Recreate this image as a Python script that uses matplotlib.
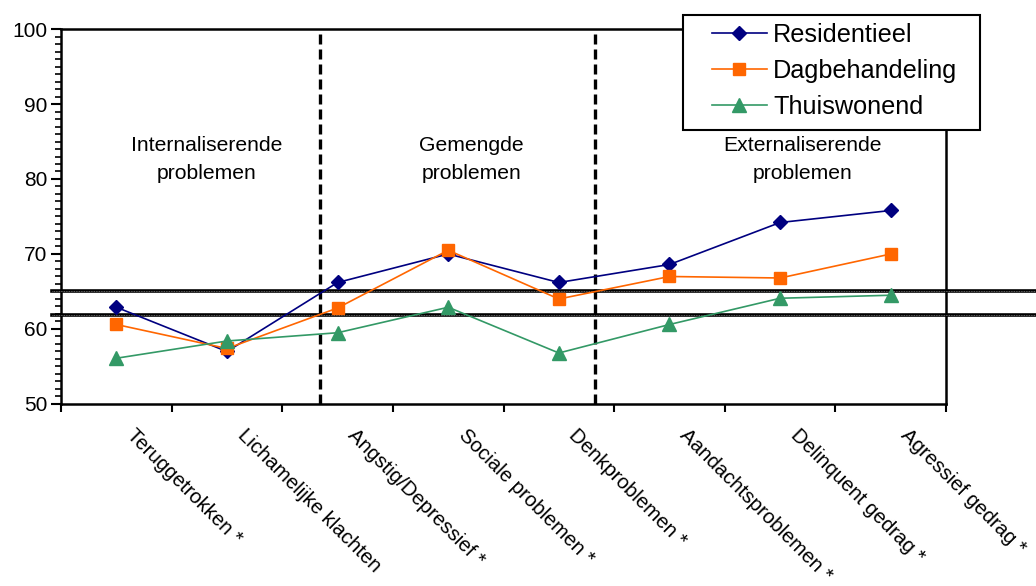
import numpy as np
import matplotlib.pyplot as plt
import matplotlib.transforms as mtransforms
from matplotlib.patches import Rectangle
from matplotlib.ticker import MultipleLocator, FixedLocator

plt.rcParams['font.family'] = ['Liberation Sans', 'DejaVu Sans']

categories = ['Teruggetrokken *', 'Lichamelijke klachten', 'Angstig/Depressief *',
              'Sociale problemen *', 'Denkproblemen *', 'Aandachtsproblemen *',
              'Delinquent gedrag *', 'Agressief gedrag *']
residentieel = [62.9, 57.0, 66.2, 70.0, 66.2, 68.6, 74.2, 75.8]
dagbehandeling = [60.6, 57.4, 62.8, 70.5, 64.0, 67.0, 66.8, 70.0]
thuiswonend = [56.1, 58.4, 59.5, 62.9, 56.8, 60.6, 64.1, 64.5]

# cut-off lines (borderline / clinical range) and group separators
cutoffs = [65.0, 61.8]
separators = [1.84, 4.33]
groups = ['Internaliserende\nproblemen', 'Gemengde\nproblemen', 'Externaliserende\nproblemen']
group_x = [0.82, 3.21, 6.2]

navy = '#000080'
orange = '#FF6600'
green = '#339966'

fig = plt.figure(figsize=(10.36, 5.86), dpi=100)
ax = fig.add_axes([0.0589, 0.3106, 0.8543, 0.6399])

x = np.arange(len(categories))
ax.plot(x, residentieel, color=navy, lw=1.2, marker='D', ms=7, label='Residentieel', zorder=4)
ax.plot(x, dagbehandeling, color=orange, lw=1.2, marker='s', ms=8.5, label='Dagbehandeling', zorder=4)
ax.plot(x, thuiswonend, color=green, lw=1.2, marker='^', ms=10, label='Thuiswonend', zorder=4)

for c in cutoffs:
    ax.plot([-0.58, 8.4], [c, c], color='black', lw=2.6, clip_on=False, zorder=3)
    ax.plot([-0.58, 8.4], [c, c], color='#888888', lw=0.6, ls=(0, (1, 1)), clip_on=False, zorder=3)

for s in separators:
    ax.plot([s, s], [50, 100], color='black', lw=2.4, ls=(0, (3, 1.5)), clip_on=False, zorder=3)

for gx, g in zip(group_x, groups):
    ax.text(gx, 82.6, g, ha='center', va='center', fontsize=15.2, linespacing=1.55)

ax.set_xlim(-0.5, len(categories) - 0.5)
ax.set_ylim(50, 100)
ax.yaxis.set_major_locator(MultipleLocator(10))
ax.yaxis.set_minor_locator(MultipleLocator(1))
ax.xaxis.set_major_locator(FixedLocator(x))
ax.xaxis.set_minor_locator(FixedLocator(np.arange(-0.5, len(categories), 1)))
ax.set_xticklabels([])
ax.tick_params(axis='x', which='major', length=0)
ax.tick_params(axis='x', which='minor', length=6, width=1.5, direction='out')
ax.tick_params(axis='y', which='major', length=7, width=1.5, labelsize=15, pad=3)
ax.tick_params(axis='y', which='minor', length=4, width=1.2)
for spine in ax.spines.values():
    spine.set_linewidth(1.8)
    spine.set_color('black')

# rotated category labels, starting just right of each category centre
label_tr = ax.get_xaxis_transform() + mtransforms.ScaledTranslation(0.20, -0.215, fig.dpi_scale_trans)
for xi, cat in zip(x, categories):
    ax.text(xi, 0, cat, transform=label_tr, rotation=-45, rotation_mode='anchor',
            ha='left', va='top', fontsize=14.7)

# legend box drawn separately: it has wider side padding than top/bottom
box = Rectangle((683 / 1036, 1 - 130 / 586), 297 / 1036, 115 / 586, transform=fig.transFigure,
                facecolor='white', edgecolor='black', lw=1.5, zorder=5)
fig.add_artist(box)
leg = fig.legend(loc='upper left', bbox_to_anchor=(712 / 1036, 1 - 23 / 586), fontsize=18.2,
                 frameon=False, handlelength=2.17, handletextpad=0.24, labelspacing=0.48,
                 borderpad=0, borderaxespad=0)
leg.set_zorder(6)

fig.savefig('out.png', dpi=100)
